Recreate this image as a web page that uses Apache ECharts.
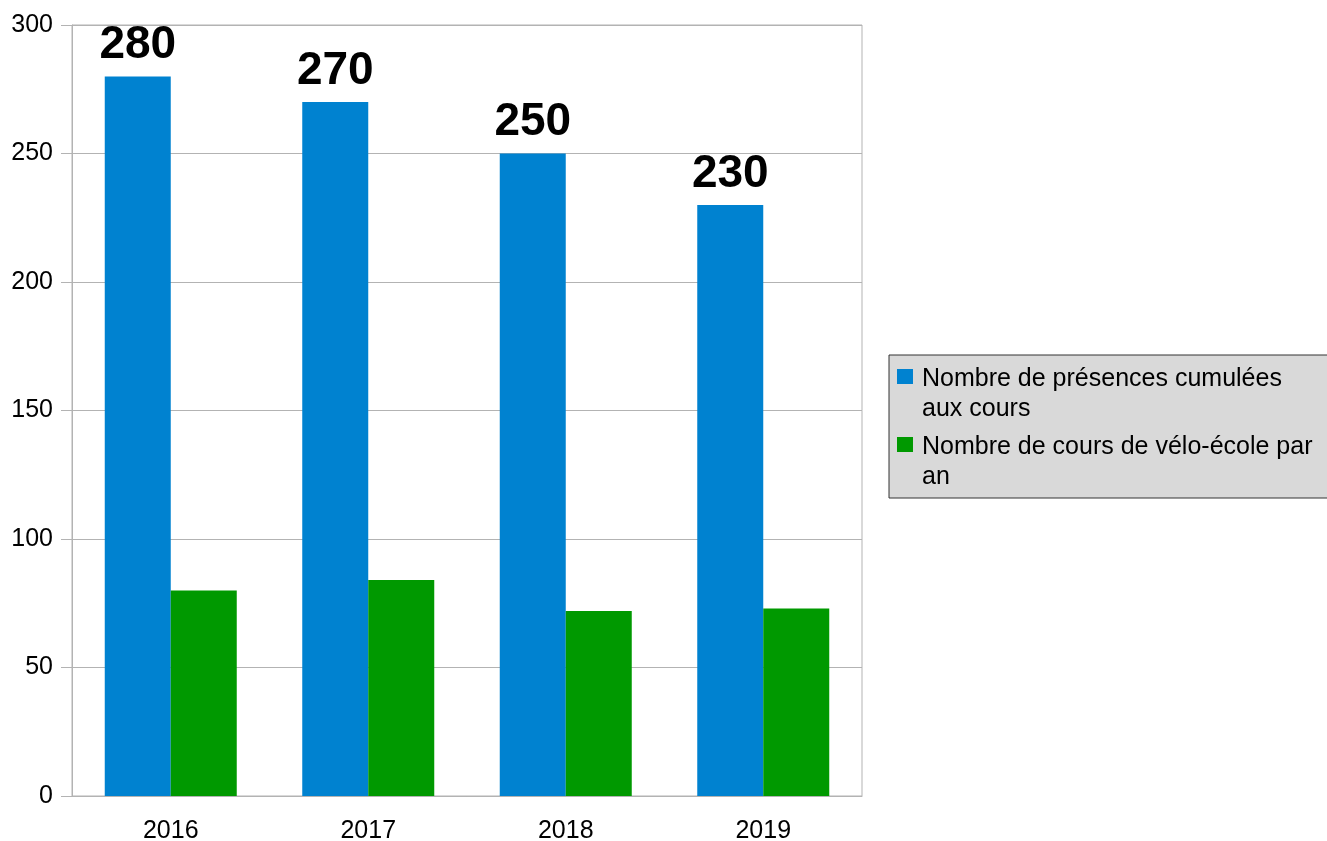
<!DOCTYPE html>
<html>
<head>
<meta charset="utf-8">
<script src="https://cdn.jsdelivr.net/npm/echarts@6/dist/echarts.min.js"></script>
<style>
  html, body { margin: 0; padding: 0; background: #fff; }
  #chart { width: 1327px; height: 841px; }
</style>
</head>
<body>
<div id="chart"></div>
<script>
// données
const years = ['2016', '2017', '2018', '2019']
const presences = [280, 270, 250, 230]
const coursParAn = [80, 84, 72, 73]
const yTicks = { min: 0, max: 300, step: 50 }
const seriesNames = [
  'Nombre de présences cumulées aux cours',
  'Nombre de cours de vélo-école par an'
]
const legendLines = {
  'Nombre de présences cumulées aux cours': 'Nombre de présences cumulées\naux cours',
  'Nombre de cours de vélo-école par an': 'Nombre de cours de vélo-école par\nan'
}

const font = 'Liberation Sans, Arial, sans-serif'
const gridColor = '#b3b3b3'
// carré en haut, points invisibles pour étendre la boîte de l'icône
const legendIcon = 'path://M0,5h16v15h-16z M0,0h0.01v0.01h-0.01z M20,60h0.01v0.01h-0.01z'

const myChart = echarts.init(document.getElementById('chart'))
const option = {
  animation: false,
  textStyle: { fontFamily: font },
  grid: {
    left: 72,
    right: 465,
    top: 25,
    bottom: 45,
    outerBoundsMode: 'none',
    show: true,
    borderColor: gridColor,
    borderWidth: 1
  },
  legend: {
    orient: 'vertical',
    left: 889,
    top: 355,
    padding: [9, 90, 6, 8],
    backgroundColor: '#d9d9d9',
    borderColor: '#333',
    borderWidth: 1,
    itemGap: 8,
    itemWidth: 20,
    itemHeight: 60,
    icon: legendIcon,
    data: seriesNames,
    formatter: (name) => legendLines[name],
    textStyle: {
      fontSize: 25,
      lineHeight: 30,
      color: '#000',
      fontFamily: font
    }
  },
  xAxis: {
    type: 'category',
    data: years,
    axisLine: { lineStyle: { color: gridColor } },
    axisTick: { length: 11, lineStyle: { color: gridColor } },
    axisLabel: { fontSize: 25, color: '#000', margin: 23, fontFamily: font }
  },
  yAxis: {
    type: 'value',
    min: yTicks.min,
    max: yTicks.max,
    interval: yTicks.step,
    axisLine: { show: true, lineStyle: { color: gridColor } },
    axisTick: { show: true, length: 11, lineStyle: { color: gridColor } },
    splitLine: { lineStyle: { color: gridColor } },
    axisLabel: {
      fontSize: 25,
      color: '#000',
      margin: 19,
      padding: [4, 0, 0, 0],
      fontFamily: font
    }
  },
  series: [
    {
      name: seriesNames[0],
      type: 'bar',
      data: presences,
      barWidth: 66,
      barGap: '0%',
      itemStyle: { color: '#0082d0' },
      label: {
        show: true,
        position: 'top',
        distance: 8,
        fontSize: 46,
        fontWeight: 'bold',
        color: '#000',
        fontFamily: font
      }
    },
    {
      name: seriesNames[1],
      type: 'bar',
      data: coursParAn,
      barWidth: 66,
      barGap: '0%',
      itemStyle: { color: '#009900' }
    }
  ]
}
option && myChart.setOption(option)
</script>
</body>
</html>
